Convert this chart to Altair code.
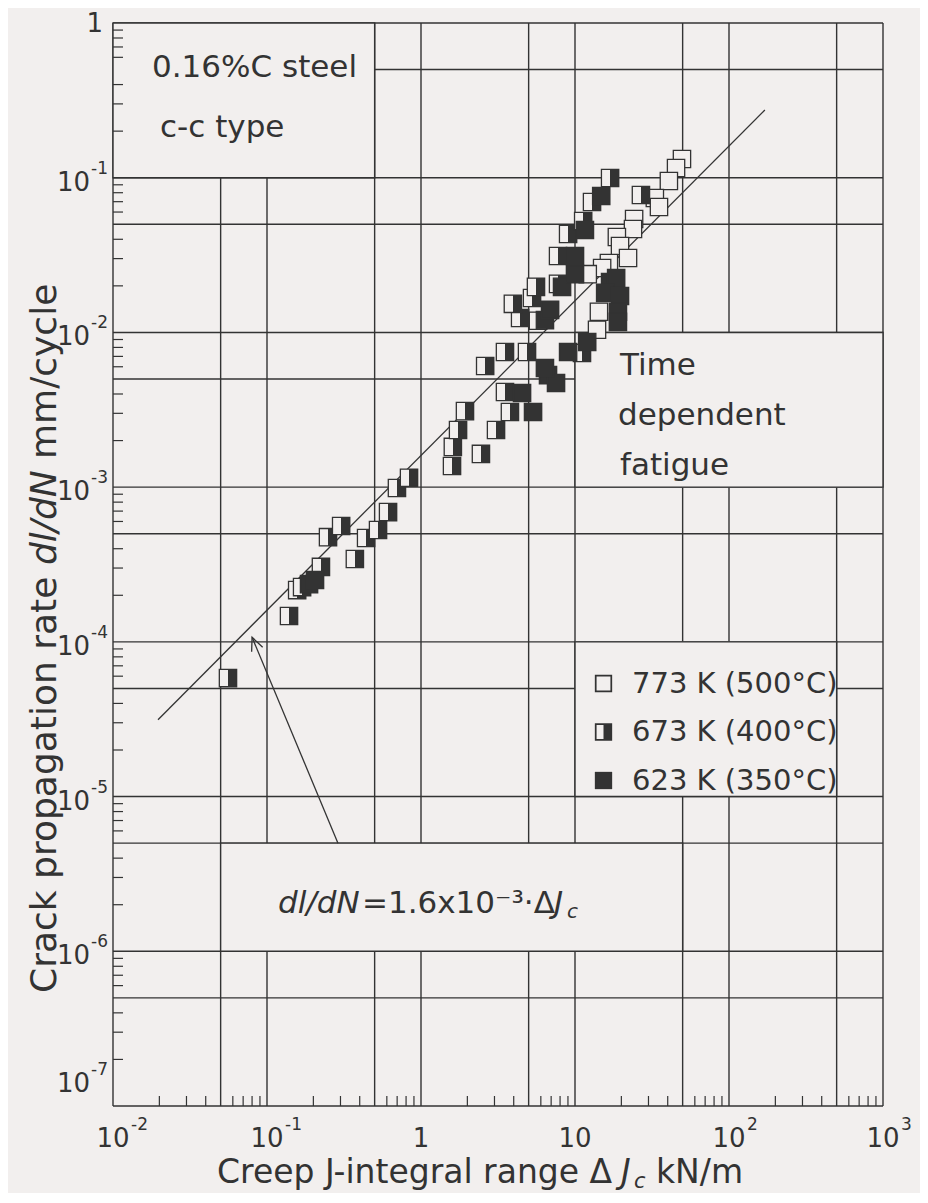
import altair as alt
import pandas as pd

# ---------------- data ----------------
SERIES = ["773 K (500°C)", "673 K (400°C)", "623 K (350°C)"]

# 773 K (500°C) - open squares
open_x = [49.5, 45.3, 40.7, 33.0, 35.1, 24.2, 23.8, 18.7, 19.6, 22.1, 16.6, 15.0,
          12.1, 14.3, 13.9, 5.75]
open_y = [0.132, 0.1156, 0.0952, 0.0739, 0.0647, 0.0541, 0.0466, 0.0414, 0.0362,
          0.0303, 0.0281, 0.0261, 0.0238, 0.0136, 0.0104, 0.0119]

# 673 K (400°C) - half filled squares
half_x = [0.0558, 0.139, 0.157, 0.169, 0.224, 0.249, 0.303, 0.372, 0.44, 0.526,
          0.611, 0.698, 0.836, 1.59, 1.61, 2.45, 1.74, 3.07, 1.93, 3.78, 3.51,
          2.61, 3.51, 4.88, 11.1, 4.40, 3.95, 5.26, 5.58, 7.76, 7.76, 9.02,
          11.3, 12.9, 16.9, 26.8]
half_y = [5.83e-5, 1.47e-4, 2.16e-4, 2.26e-4, 3.05e-4, 4.75e-4, 5.61e-4, 3.43e-4,
          4.69e-4, 5.28e-4, 6.9e-4, 9.87e-4, 1.15e-3, 1.37e-3, 1.82e-3, 1.64e-3,
          2.34e-3, 2.34e-3, 3.1e-3, 3.06e-3, 4.12e-3, 6.07e-3, 7.47e-3, 7.47e-3,
          7.36e-3, 1.24e-2, 1.53e-2, 1.67e-2, 1.97e-2, 2.06e-2, 3.12e-2, 4.33e-2,
          5.25e-2, 6.97e-2, 9.95e-2, 7.73e-2]

# 623 K (350°C) - filled squares
filled_x = [0.1875, 0.205, 4.53, 5.34, 6.68, 7.53, 6.38, 9.02, 12.0, 6.38, 6.89,
            8.24, 10.0, 10.0, 11.6, 14.8, 16.9, 18.5, 15.7, 19.6, 19.0, 19.0]
filled_y = [2.36e-4, 2.51e-4, 4.06e-3, 3.06e-3, 5.3e-3, 4.71e-3, 5.89e-3, 7.47e-3,
            8.67e-3, 1.20e-2, 1.40e-2, 1.97e-2, 2.38e-2, 3.12e-2, 4.59e-2, 7.62e-2,
            2.12e-2, 2.25e-2, 1.80e-2, 1.72e-2, 1.36e-2, 1.17e-2]

# fitted line dl/dN = 1.6e-3 * dJc (end points as drawn)
fit_x = [0.0196, 171.0]
fit_y = [3.14e-5, 0.274]

# arrow from formula box to the line
arrow_x = [0.289, 0.080]
arrow_y = [5e-6, 1.07e-4]

# tick labels: base and exponent
x_major = [0.01, 0.1, 1, 10, 100, 1000]
x_base = ["10", "10", "1", "10", "10", "10"]
x_exp_vals = [0.01, 0.1, 100, 1000]
x_exp = ["-2", "-1", "2", "3"]
y_major = [1e-6, 1e-5, 1e-4, 1e-3, 1e-2, 1e-1]
y_base = ["10", "10", "10", "10", "10", "10"]
y_exp = ["-6", "-5", "-4", "-3", "-2", "-1"]
y_low = [1e-7]
y_low_base = ["10"]
y_low_exp = ["-7"]
y_one = [1]
y_one_label = ["1"]

x_grid = [0.01, 0.05, 0.1, 0.5, 1, 5, 10, 50, 100, 500, 1000]
y_grid = [1e-7, 5e-7, 1e-6, 5e-6, 1e-5, 5e-5, 1e-4, 5e-4, 1e-3, 5e-3,
          1e-2, 5e-2, 0.1, 0.5, 1]
minor_mult = [2, 3, 4, 6, 7, 8, 9]
x_minor = [m * 10.0 ** e for e in range(-2, 3) for m in minor_mult]
y_minor = [m * 10.0 ** e for e in range(-7, 0) for m in minor_mult]

# blank annotation boxes (cover the grid)
box_x1 = [0.01, 10, 10, 0.05]
box_x2 = [0.5, 1000, 500, 50]
box_y1 = [0.1, 1e-3, 1e-5, 1e-6]
box_y2 = [1, 1e-2, 1e-4, 5e-6]

# ---------------- style ----------------
W, H = 770, 1083
BG = "#f2efee"
INK = "#333333"
FONT = "DejaVu Sans"
SZ = 300
GW = 1.4
TICKF = 26
EXPF = 17

RING = "M-1,-1H1V1H-1Z M-0.8,-0.8V0.8H0.8V-0.8Z"
HALF = "M-1,-1H1V1H-1Z M-0.8,-0.8V0.8H0V-0.8Z"
FULL = "M-1,-1H1V1H-1Z"

xs = alt.Scale(type="log", domain=[0.01, 1000], nice=False)
ys = alt.Scale(type="log", domain=[1e-7, 1], nice=False)

rows = []
for s, xv, yv in [(SERIES[0], open_x, open_y), (SERIES[1], half_x, half_y),
                  (SERIES[2], filled_x, filled_y)]:
    for a, b in zip(xv, yv):
        rows.append({"s": s, "x": a, "y": b})
pts = pd.DataFrame(rows)

vgrid = alt.Chart(pd.DataFrame({"v": x_grid})).mark_rule(color=INK, strokeWidth=GW).encode(
    x=alt.X("v:Q", scale=xs, axis=None))
hgrid = alt.Chart(pd.DataFrame({"v": y_grid})).mark_rule(color=INK, strokeWidth=GW).encode(
    y=alt.Y("v:Q", scale=ys, axis=None))

boxes = alt.Chart(pd.DataFrame({"x1": box_x1, "x2": box_x2, "y1": box_y1, "y2": box_y2})).mark_rect(
    fill=BG, stroke=INK, strokeWidth=GW).encode(
    x=alt.X("x1:Q", scale=xs, axis=None), x2="x2:Q",
    y=alt.Y("y1:Q", scale=ys, axis=None), y2="y2:Q")

xt = alt.Chart(pd.DataFrame({"v": x_minor})).mark_rule(color=INK, strokeWidth=1.2).encode(
    x=alt.X("v:Q", scale=xs, axis=None), y=alt.value(H), y2=alt.value(H - 10))
yt = alt.Chart(pd.DataFrame({"v": y_minor})).mark_rule(color=INK, strokeWidth=1.2).encode(
    y=alt.Y("v:Q", scale=ys, axis=None), x=alt.value(0), x2=alt.value(10))

# tick labels drawn through the scales
def tick_text(vals, labs, chan, pos, align, size, dx=0, dy=0, baseline="middle"):
    df = pd.DataFrame({"v": vals, "t": labs})
    m = alt.Chart(df).mark_text(font=FONT, fontSize=size, color=INK, align=align,
                                baseline=baseline, dx=dx, dy=dy)
    if chan == "x":
        return m.encode(x=alt.X("v:Q", scale=xs, axis=None), y=alt.value(pos), text="t:N")
    return m.encode(y=alt.Y("v:Q", scale=ys, axis=None), x=alt.value(pos), text="t:N")

xlab = tick_text(x_major, x_base, "x", H + 33, "center", TICKF)
xlab_e = tick_text(x_exp_vals, x_exp, "x", H + 33, "left", EXPF, dx=18, dy=-14)
ylab = tick_text(y_major, y_base, "y", -23, "right", TICKF, dy=5)
ylab_e = tick_text(y_major, y_exp, "y", -22, "left", EXPF, dy=-9)
ylow = tick_text(y_low, y_low_base, "y", -23, "right", TICKF, dy=-22)
ylow_e = tick_text(y_low, y_low_exp, "y", -22, "left", EXPF, dy=-36)
ylab_1 = tick_text(y_one, y_one_label, "y", -10, "right", TICKF, dy=1)

fit = alt.Chart(pd.DataFrame({"x": fit_x, "y": fit_y})).mark_line(color=INK, strokeWidth=1.3).encode(
    x=alt.X("x:Q", scale=xs, axis=None), y=alt.Y("y:Q", scale=ys, axis=None))

legend_layer = alt.Chart(pts).mark_point(filled=True, size=SZ, color=INK, strokeWidth=0, opacity=1).encode(
    x=alt.X("x:Q", scale=xs, axis=None),
    y=alt.Y("y:Q", scale=ys, axis=None),
    shape=alt.Shape("s:N", scale=alt.Scale(domain=SERIES, range=[RING, HALF, FULL]),
                    legend=alt.Legend(title=None, orient="none", legendX=476, legendY=646,
                                      labelFont=FONT, labelFontSize=29, labelColor=INK,
                                      labelOffset=14, rowPadding=18.5, padding=0, labelLimit=500,
                                      symbolSize=SZ, symbolFillColor=INK,
                                      symbolStrokeWidth=0, symbolOpacity=1)))

half_grad = {"gradient": "linear", "x1": 0, "x2": 1, "y1": 0, "y2": 0,
             "stops": [{"offset": 0, "color": BG}, {"offset": 0.5, "color": BG},
                       {"offset": 0.5, "color": INK}, {"offset": 1, "color": INK}]}

points = alt.Chart(pts).mark_point(shape="square", filled=True, size=SZ, stroke=INK,
                                   strokeWidth=1.3, opacity=1).encode(
    x=alt.X("x:Q", scale=xs, axis=None),
    y=alt.Y("y:Q", scale=ys, axis=None),
    fill=alt.FillValue(INK, condition=[
        {"test": "datum.s === '%s'" % SERIES[0], "value": BG},
        {"test": "datum.s === '%s'" % SERIES[1], "value": half_grad}]))

adf = pd.DataFrame({"x": arrow_x, "y": arrow_y})
shaft = alt.Chart(adf).mark_line(color=INK, strokeWidth=1.3).encode(
    x=alt.X("x:Q", scale=xs, axis=None), y=alt.Y("y:Q", scale=ys, axis=None))
head = alt.Chart(adf.iloc[[1]]).mark_point(shape="M-0.45,1L0,0L0.45,1", size=700, filled=False,
                                           stroke=INK, strokeWidth=1.3, opacity=1, angle=337.5).encode(
    x=alt.X("x:Q", scale=xs, axis=None), y=alt.Y("y:Q", scale=ys, axis=None))

one = alt.Data(values=[{"k": 0}])

def txt(s, x, y, size=31, style="normal", align="left", baseline="alphabetic", angle=0):
    return alt.Chart(one).mark_text(text=s, font=FONT, fontSize=size, fontStyle=style,
                                    align=align, baseline=baseline, angle=angle,
                                    color=INK).encode(x=alt.value(x), y=alt.value(y))

texts = [
    txt("0.16%C steel", 39, 54),
    txt("c-c type", 47, 114),
    txt("Time", 507, 352),
    txt("dependent", 505, 402),
    txt("fatigue", 507, 452),
    # formula
    txt("dl/dN", 165, 890, style="italic"),
    txt("=1.6x10⁻³·Δ", 249, 890),
    txt("J", 441, 890, style="italic"),
    txt("c", 454, 895, size=20, style="italic"),
    # x title
    txt("Creep J-integral range Δ", 104, 1160, size=33),
    txt("J", 508, 1160, size=33, style="italic"),
    txt("c", 521, 1165, size=21, style="italic"),
    txt("kN/m", 543, 1160, size=33),
    # y title
    txt("Crack propagation rate", -68, 970, size=36, baseline="middle", angle=270),
    txt("dl/dN", -68, 542, size=36, style="italic", baseline="middle", angle=270),
    txt("mm/cycle", -68, 436, size=36, baseline="middle", angle=270),
]

chart = alt.layer(vgrid, hgrid, boxes, xt, yt, xlab, xlab_e, ylab, ylab_e, ylow, ylow_e, ylab_1,
                  fit, legend_layer, points, shaft, head, *texts).properties(
    width=W, height=H,
    autosize=alt.AutoSizeParams(type="none"),
    padding={"left": 105, "top": 15, "right": 37, "bottom": 87},
    background=BG,
).configure_view(stroke=None)

chart.save("out.html", embed_options={"renderer": "svg", "actions": False})
